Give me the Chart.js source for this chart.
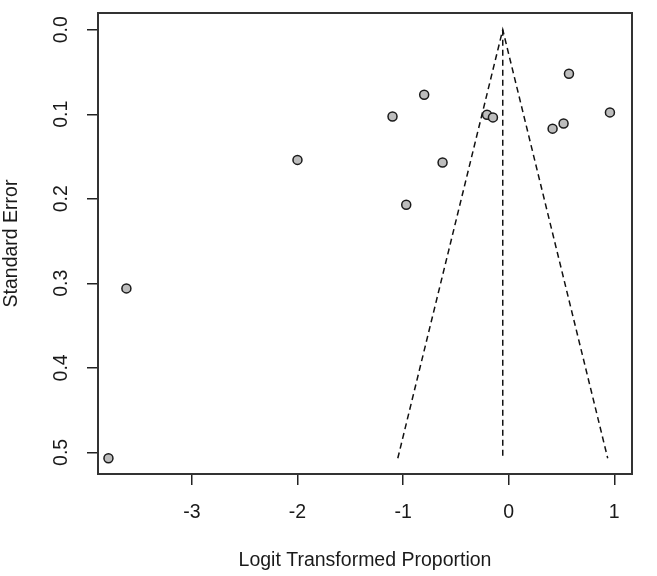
<!DOCTYPE html>
<html>
<head>
<meta charset="utf-8">
<script src="https://cdn.jsdelivr.net/npm/chart.js@4.4.1/dist/chart.umd.min.js"></script>
<style>
html,body{margin:0;padding:0;background:#fff;}
#wrap{width:657px;height:576px;}
</style>
</head>
<body>
<div id="wrap"><canvas id="c" width="657" height="576"></canvas></div>
<script>
// Study estimates (logit transformed proportion) and their standard errors
const studyX = [-3.79, -3.62, -2.00, -1.10, -0.80, -0.97, -0.626, -0.205, -0.149, 0.416, 0.52, 0.571, 0.959];
const studySE = [0.507, 0.306, 0.154, 0.1026, 0.0769, 0.207, 0.157, 0.1005, 0.1037, 0.117, 0.111, 0.052, 0.0978];
// Funnel (pseudo confidence region)
const funnelX = [-1.05, -0.056, 0.938];
const funnelY = [0.507, 0, 0.507];
// Pooled estimate vertical line
const centerX = [-0.056, -0.056];
const centerY = [0, 0.507];
// Axis ticks
const xTicks = [-3, -2, -1, 0, 1];
const yTicks = [0.0, 0.1, 0.2, 0.3, 0.4, 0.5];
const yTickLabels = ['0.0', '0.1', '0.2', '0.3', '0.4', '0.5'];

const FONT = 'Liberation Sans, Arial, sans-serif';
const FS = 19.5;
const INK = '#1a1a1a';

const pts = (xs, ys) => xs.map((x, i) => ({x: x, y: ys[i]}));

const boxAndLabels = {
  id: 'boxAndLabels',
  afterDraw(chart) {
    const ctx = chart.ctx, a = chart.chartArea;
    ctx.save();
    ctx.strokeStyle = '#333';
    ctx.lineWidth = 2;
    ctx.strokeRect(a.left, a.top, a.right - a.left, a.bottom - a.top);
    const ys = chart.scales.y;
    ctx.fillStyle = INK;
    ctx.font = FS + 'px ' + FONT;
    ctx.textAlign = 'center';
    ctx.textBaseline = 'alphabetic';
    yTicks.forEach((v, i) => {
      const py = ys.getPixelForValue(v);
      ctx.save();
      ctx.translate(a.left - 31, py);
      ctx.rotate(-Math.PI / 2);
      ctx.fillText(yTickLabels[i], 0, 0);
      ctx.restore();
    });
    ctx.restore();
  }
};

new Chart(document.getElementById('c'), {
  data: {
    datasets: [
      {
        type: 'line',
        data: pts(funnelX, funnelY),
        borderColor: '#111',
        borderWidth: 1.5,
        borderDash: [6, 4],
        pointRadius: 0,
        tension: 0,
        fill: false,
        order: 2
      },
      {
        type: 'line',
        data: pts(centerX, centerY),
        borderColor: '#111',
        borderWidth: 1.5,
        borderDash: [6, 4],
        pointRadius: 0,
        tension: 0,
        fill: false,
        order: 2
      },
      {
        type: 'scatter',
        data: pts(studyX, studySE),
        backgroundColor: '#bdbdbd',
        borderColor: '#1a1a1a',
        borderWidth: 1.5,
        pointRadius: 4.5,
        pointHoverRadius: 4.5,
        order: 1
      }
    ]
  },
  options: {
    responsive: false,
    animation: false,
    events: [],
    layout: {padding: {top: 13, right: 25, left: 0, bottom: 0}},
    plugins: {legend: {display: false}, tooltip: {enabled: false}},
    scales: {
      x: {
        type: 'linear',
        position: 'bottom',
        min: -3.889,
        max: 1.168,
        afterBuildTicks: s => { s.ticks = xTicks.map(v => ({value: v})); },
        afterFit: s => { s.height = 102; },
        grid: {display: true, drawOnChartArea: false, drawTicks: true, tickLength: 11, color: '#222', lineWidth: 1.5},
        border: {display: false},
        ticks: {color: INK, font: {family: FONT, size: FS}, padding: 16, maxRotation: 0, autoSkip: false},
        title: {display: true, text: 'Logit Transformed Proportion', color: INK, font: {family: FONT, size: FS}, padding: {top: 0, bottom: 4}}
      },
      y: {
        type: 'linear',
        reverse: true,
        min: -0.0198,
        max: 0.5256,
        afterBuildTicks: s => { s.ticks = yTicks.map(v => ({value: v})); },
        afterFit: s => { s.width = 98; },
        grid: {display: true, drawOnChartArea: false, drawTicks: true, tickLength: 11, color: '#222', lineWidth: 1.5},
        border: {display: false},
        ticks: {display: false},
        title: {display: true, text: 'Standard Error', color: INK, font: {family: FONT, size: FS}, padding: {top: 0, bottom: 0}}
      }
    }
  },
  plugins: [boxAndLabels]
});
</script>
</body>
</html>
